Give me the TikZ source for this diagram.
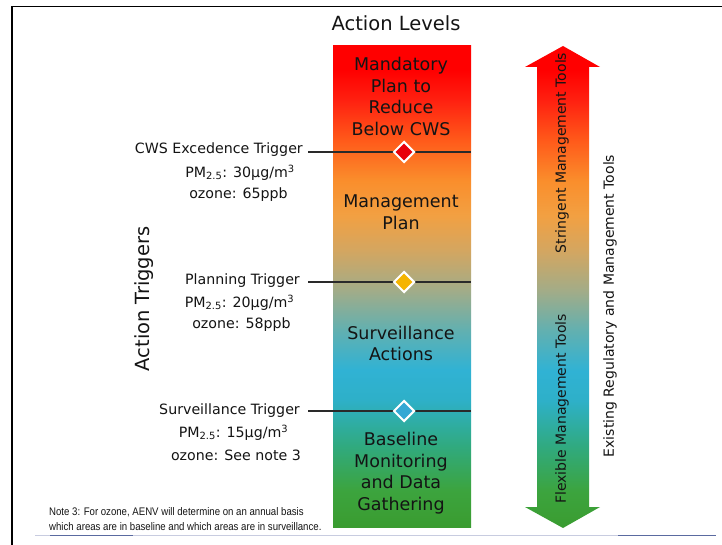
\documentclass[tikz,border=0pt]{standalone}
\usepackage{fontspec}
\setmainfont{DejaVu Sans}
\newfontfamily\notefont{Liberation Sans}
\usetikzlibrary{shapes.geometric}

\definecolor{txt}{HTML}{141414}
\definecolor{lineg}{HTML}{2A2A2A}
\definecolor{rulebl}{HTML}{5A6AA0}
\definecolor{rulelt}{HTML}{C8CCE0}
% gradient stops, bottom to top
\definecolor{lvA}{HTML}{3A9C30}
\definecolor{lvB}{HTML}{3CA43E}
\definecolor{lvC}{HTML}{30AA80}
\definecolor{lvD}{HTML}{2EB0C8}
\definecolor{lvE}{HTML}{30B2D4}
\definecolor{lvF}{HTML}{62B0B0}
\definecolor{lvG}{HTML}{A2AC88}
\definecolor{lvH}{HTML}{D4A660}
\definecolor{lvI}{HTML}{F2A042}
\definecolor{lvJ}{HTML}{FA8E2C}
\definecolor{lvK}{HTML}{FF5A1A}
\definecolor{lvL}{HTML}{FF2010}
\definecolor{lvM}{HTML}{FF0000}
\definecolor{gRed}{HTML}{E8000A}
\definecolor{gYel}{HTML}{F5B400}
\definecolor{gBlue}{HTML}{34A8D4}

\pgfdeclareverticalshading{levels}{100bp}{%
  color(0bp)=(lvA); color(25bp)=(lvA); color(28.8bp)=(lvB);
  color(33.5bp)=(lvC); color(38.2bp)=(lvD); color(41.3bp)=(lvE);
  color(45.5bp)=(lvF); color(49.6bp)=(lvG); color(53.8bp)=(lvH);
  color(57.4bp)=(lvI); color(61bp)=(lvJ); color(65.2bp)=(lvK);
  color(69.4bp)=(lvL); color(72.5bp)=(lvM); color(75bp)=(lvM);
  color(100bp)=(lvM)}

\begin{document}
\begin{tikzpicture}[x=1pt,y=-1pt,
  lbl/.style={font=\fontsize{14.2}{17}\selectfont, text=txt, inner sep=0pt},
  lvl/.style={font=\fontsize{17.5}{21.5}\selectfont, align=center, text=txt, inner sep=0pt},
  head/.style={font=\fontsize{19.5}{22}\selectfont, text=txt, inner sep=0pt},
  tool/.style={font=\fontsize{14}{16}\selectfont, rotate=90, text=txt, inner sep=0pt},
  gate/.style={diamond, draw=white, line width=2pt, minimum width=21pt,
               minimum height=21pt, inner sep=0pt},
  trig/.style={draw=lineg, line width=1.1pt},
  note/.style={font=\notefont\fontsize{11}{15}\selectfont, text=txt,
               inner sep=0pt, anchor=west, xscale=0.875}
]
\useasboundingbox (0,0) rectangle (722,545);
\fill[white] (0,0) rectangle (722,545);

% frame
\draw[black, line width=1.8pt] (12,545) -- (12,6.5) -- (722,6.5);
\draw[rulelt, line width=0.8pt] (35,535.5) -- (716,535.5);
\draw[rulebl, line width=1.2pt] (50,535.5) -- (133,535.5);
\draw[rulebl, line width=1.2pt] (618,535.5) -- (716,535.5);

% headings
\node[head] (levels) at (396,23) {Action Levels};
\node[head, rotate=90] (triggers) at (144,299) {Action Triggers};

% graded bar of action levels
\node[shade, shading=levels, minimum width=138pt, minimum height=481pt,
      inner sep=0pt] (bar) at (402,286.5) {};

% trigger lines
\coordinate (t1w) at (308,152); \coordinate (t1e) at (471,152);
\coordinate (t2w) at (308,282); \coordinate (t2e) at (471,282);
\coordinate (t3w) at (308,411); \coordinate (t3e) at (471,411);
\draw[trig] (t1w) -- (t1e);
\draw[trig] (t2w) -- (t2e);
\draw[trig] (t3w) -- (t3e);
\node[gate, fill=gRed]  (g1) at (404,152) {};
\node[gate, fill=gYel]  (g2) at (404,282) {};
\node[gate, fill=gBlue] (g3) at (404,411) {};

% level texts
\node[lvl] (mand) at (401,96.5) {Mandatory\\Plan to\\Reduce\\Below CWS};
\node[lvl] (mgmt) at (401,212) {Management\\Plan};
\node[lvl] (surv) at (401,343.5) {Surveillance\\Actions};
\node[lvl] (base) at (401,473) {Baseline\\Monitoring\\and Data\\Gathering};

% trigger labels
\node[lbl, anchor=east] (cws) at (303,150) {CWS Excedence Trigger};
\node[lbl] (cwspm) at (240,172.5) {PM\textsubscript{2.5}: 30µg/m\textsuperscript{3}};
\node[lbl] (cwsoz) at (238.5,195) {ozone: 65ppb};

\node[lbl, anchor=east] (plan) at (300,281) {Planning Trigger};
\node[lbl] (planpm) at (239.5,302.5) {PM\textsubscript{2.5}: 20µg/m\textsuperscript{3}};
\node[lbl] (planoz) at (241.5,325) {ozone: 58ppb};

\node[lbl, anchor=east] (surt) at (300,410.5) {Surveillance Trigger};
\node[lbl] (surpm) at (233.5,432.5) {PM\textsubscript{2.5}: 15µg/m\textsuperscript{3}};
\node[lbl] (suroz) at (236,455) {ozone: See note 3};

% two-headed tools arrow
\shade[shading=levels] (563,46) -- (600,67) -- (589,67) -- (589,507)
  -- (600,507) -- (563,528) -- (525,507) -- (537,507) -- (537,67)
  -- (525,67) -- cycle;
\node[tool] (strict) at (562,153) {Stringent Management Tools};
\node[tool] (flex) at (562,409) {Flexible Management Tools};
\node[tool] (exist) at (610,306) {Existing Regulatory and Management Tools};

% footnote
\node[note] (n1) at (49,512) {Note 3: For ozone, AENV will determine on an annual basis};
\node[note] (n2) at (49,527) {which areas are in baseline and which areas are in surveillance.};
\end{tikzpicture}
\end{document}
